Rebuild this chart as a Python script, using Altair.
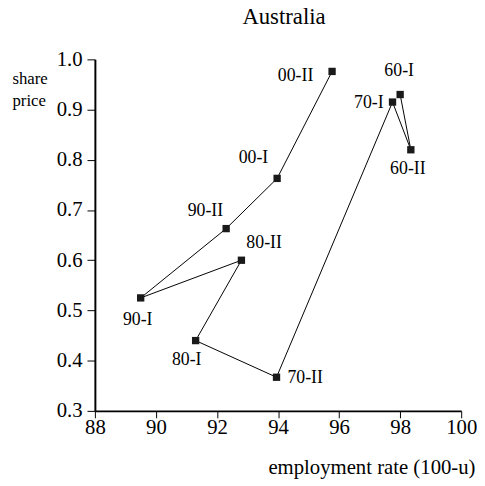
import altair as alt
import pandas as pd

# ---- data ----
labels = ["60-I", "60-II", "70-I", "70-II", "80-I", "80-II", "90-I", "90-II", "00-I", "00-II"]
employment_rate = [98.0, 98.35, 97.75, 93.95, 91.3, 92.8, 89.5, 92.3, 93.97, 95.77]
share_price = [0.93, 0.82, 0.915, 0.367, 0.44, 0.6, 0.525, 0.663, 0.763, 0.976]
x_ticks = [88, 90, 92, 94, 96, 98, 100]
y_ticks = [0.3, 0.4, 0.5, 0.6, 0.7, 0.8, 0.9, 1.0]

df = pd.DataFrame({
    "label": labels,
    "emp": employment_rate,
    "share": share_price,
    "order": list(range(len(labels))),
})

FONT = "Liberation Serif"

# label placement (style only): align, dx, dy
placement = {
    "60-I": ("center", -1, -24),
    "60-II": ("center", -3, 20),
    "70-I": ("right", -9, 1),
    "70-II": ("left", 11, 1),
    "80-I": ("center", -9, 20),
    "80-II": ("center", 23, -17),
    "90-I": ("center", -3, 22),
    "90-II": ("center", -21, -18),
    "00-I": ("center", -24, -21),
    "00-II": ("right", -19, 5),
}

x_enc = alt.X(
    "emp:Q",
    scale=alt.Scale(domain=[88, 100], nice=False, zero=False),
    axis=alt.Axis(
        values=x_ticks,
        labelFlush=False,
        title="employment rate (100-u)",
        titleAlign="right",
        titleBaseline="alphabetic",
        titleX=385,
        titleY=63,
        titleFontSize=21,
        tickSize=7,
        labelPadding=-1,
    ),
)
y_enc = alt.Y(
    "share:Q",
    scale=alt.Scale(domain=[0.3, 1.0], nice=False, zero=False),
    axis=alt.Axis(
        values=y_ticks,
        format=".1f",
        title=["share", "price"],
        titleAngle=0,
        titleAlign="left",
        titleBaseline="alphabetic",
        titleX=-84,
        titleY=24,
        titleLineHeight=23,
        titleFontSize=17,
        tickSize=8,
        labelPadding=5,
    ),
)

base = alt.Chart(df)

line = base.mark_line(color="black", strokeWidth=1).encode(x=x_enc, y=y_enc, order="order:Q")
points = base.mark_point(shape="square", filled=True, size=55, color="#1a1a1a", opacity=1).encode(
    x="emp:Q", y="share:Q"
)

text_layers = []
for lab in labels:
    al, dx, dy = placement[lab]
    text_layers.append(
        base.transform_filter(alt.datum.label == lab)
        .mark_text(align=al, dx=dx, dy=dy, baseline="middle", font=FONT, fontSize=18, color="black")
        .encode(x="emp:Q", y="share:Q", text="label:N")
    )

chart = (
    alt.layer(line, points, *text_layers)
    .properties(
        width=371,
        height=356,
        title=alt.TitleParams(
            text="Australia", font=FONT, fontSize=23, fontWeight="normal", color="black",
            anchor="middle", dx=6, offset=20,
        ),
        autosize=alt.AutoSizeParams(type="none"),
        padding={"left": 88, "top": 49, "right": 16, "bottom": 70},
    )
    .configure_view(stroke=None)
    .configure_axis(
        grid=False,
        domainColor="black",
        domainWidth=2,
        tickColor="black",
        tickWidth=1,
        labelFont=FONT,
        labelFontSize=21,
        labelColor="black",
        titleFont=FONT,
        titleFontWeight="normal",
        titleColor="black",
    )
)

chart.save("out.html", embed_options={"renderer": "svg", "actions": False})
